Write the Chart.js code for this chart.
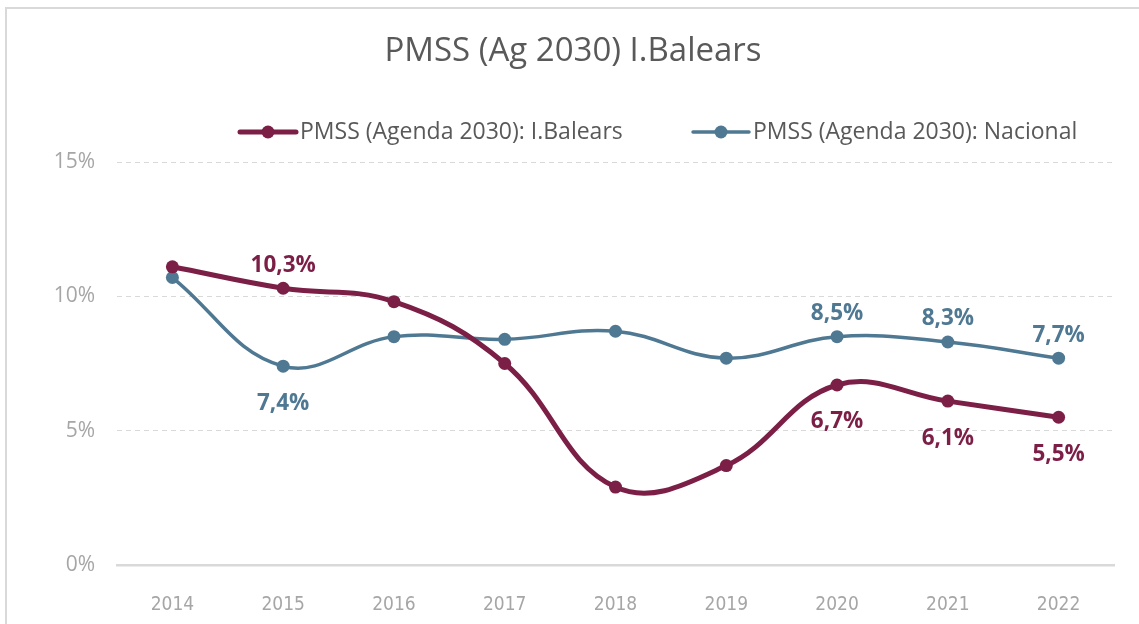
<!DOCTYPE html>
<html>
<head>
<meta charset="utf-8">
<script src="https://cdn.jsdelivr.net/npm/chart.js@4/dist/chart.umd.min.js"></script>
<style>
  html, body { margin: 0; padding: 0; background: #fff; overflow: hidden; }
  #marco { position: absolute; left: 5px; top: 7px; width: 1200px; height: 700px;
           border-top: 2px solid #d9d9d9; border-left: 2px solid #d9d9d9; }
  #caja { position: absolute; left: 0; top: 0; width: 1139px; height: 624px; }
</style>
</head>
<body>
<div id="marco"></div>
<div id="caja"><canvas id="grafico" width="1139" height="624"></canvas></div>
<script>
// Datos del grafico
const anos = ['2014', '2015', '2016', '2017', '2018', '2019', '2020', '2021', '2022'];
const balears = [11.1, 10.3, 9.8, 7.5, 2.9, 3.7, 6.7, 6.1, 5.5];
const nacional = [10.7, 7.4, 8.5, 8.4, 8.7, 7.7, 8.5, 8.3, 7.7];
// etiquetas que se muestran (null = sin etiqueta)
const etiqBalears = [null, 'arriba', null, null, null, null, 'abajo', 'abajo', 'abajo'];
const etiqNacional = [null, 'abajo', null, null, null, null, 'arriba', 'arriba', 'arriba'];
const ticksY = [0, 5, 10, 15];

const titulo = 'PMSS (Ag 2030) I.Balears';
const nombreBalears = 'PMSS (Agenda 2030): I.Balears';
const nombreNacional = 'PMSS (Agenda 2030): Nacional';

const colorBalears = '#7c1f47';
const colorNacional = '#4f7892';
const fuente = '"Open Sans", Lato, sans-serif';
const fuenteEjeX = '"Liberation Sans Narrow", "DejaVu Sans Condensed", Lato, sans-serif';

// Titulo y leyenda dibujados a mano
const tituloLeyenda = {
    id: 'tituloLeyenda',
    afterDraw(chart) {
        const ctx = chart.ctx;
        ctx.save();
        ctx.fillStyle = '#595959';
        ctx.font = '33px ' + fuente;
        ctx.textAlign = 'center';
        ctx.textBaseline = 'middle';
        ctx.fillText(titulo, 573, 52);

        const items = [
            { x: 240, texto: nombreBalears, color: colorBalears, ancho: 5 },
            { x: 693, texto: nombreNacional, color: colorNacional, ancho: 3.5 }
        ];
        items.forEach(it => {
            const y = 132;
            ctx.strokeStyle = it.color;
            ctx.lineWidth = it.ancho;
            ctx.lineCap = 'round';
            ctx.beginPath();
            ctx.moveTo(it.x, y);
            ctx.lineTo(it.x + 56, y);
            ctx.stroke();
            ctx.fillStyle = it.color;
            ctx.beginPath();
            ctx.arc(it.x + 28, y, 6.5, 0, Math.PI * 2);
            ctx.fill();
            ctx.fillStyle = '#595959';
            ctx.font = '23px ' + fuente;
            ctx.textAlign = 'left';
            ctx.fillText(it.texto, it.x + 60, y);
        });
        ctx.restore();
    }
};

// Etiquetas de datos
const etiquetas = {
    id: 'etiquetas',
    afterDatasetsDraw(chart) {
        const ctx = chart.ctx;
        ctx.save();
        ctx.font = 'bold 22.5px ' + fuente;
        ctx.textAlign = 'center';
        ctx.textBaseline = 'middle';
        chart.data.datasets.forEach((ds, i) => {
            const meta = chart.getDatasetMeta(i);
            const pos = i === 0 ? etiqBalears : etiqNacional;
            meta.data.forEach((p, j) => {
                if (!pos[j]) return;
                const texto = ds.data[j].toFixed(1).replace('.', ',') + '%';
                const dy = pos[j] === 'arriba' ? -23 : 37;
                ctx.fillStyle = ds.borderColor;
                ctx.fillText(texto, p.x, p.y + dy);
            });
        });
        ctx.restore();
    }
};

const graficoLineas = new Chart(document.querySelector('#grafico'), {
    type: 'line',
    data: {
        labels: anos,
        datasets: [{
            label: nombreBalears,
            data: balears,
            borderColor: colorBalears,
            backgroundColor: colorBalears,
            borderWidth: 5,
            pointRadius: 6.5,
            pointBorderWidth: 0,
            tension: 0.4
        }, {
            label: nombreNacional,
            data: nacional,
            borderColor: colorNacional,
            backgroundColor: colorNacional,
            borderWidth: 3.5,
            pointRadius: 6.5,
            pointBorderWidth: 0,
            tension: 0.4
        }]
    },
    options: {
        responsive: false,
        animation: false,
        layout: { padding: { left: 0, right: 25, top: 162, bottom: 0 } },
        plugins: {
            legend: { display: false },
            title: { display: false },
            tooltip: { enabled: false }
        },
        scales: {
            x: {
                offset: true,
                grid: { display: false },
                border: { display: true, color: '#d9d9d9', width: 2.5 },
                ticks: { color: '#a6a6a6', font: { family: fuenteEjeX, size: 19 }, padding: 21 },
                afterFit(scale) { scale.height = 59; }
            },
            y: {
                min: 0,
                max: 15,
                afterBuildTicks(scale) { scale.ticks = ticksY.map(v => ({ value: v })); },
                grid: { color: '#d9d9d9', lineWidth: 1, drawTicks: false },
                border: { display: false, dash: [5, 4] },
                ticks: {
                    color: '#a6a6a6',
                    font: { family: fuente, size: 21 },
                    padding: 22,
                    callback: v => v + '%'
                },
                afterFit(scale) { scale.width = 117; }
            }
        }
    },
    plugins: [tituloLeyenda, etiquetas]
});
</script>
</body>
</html>
